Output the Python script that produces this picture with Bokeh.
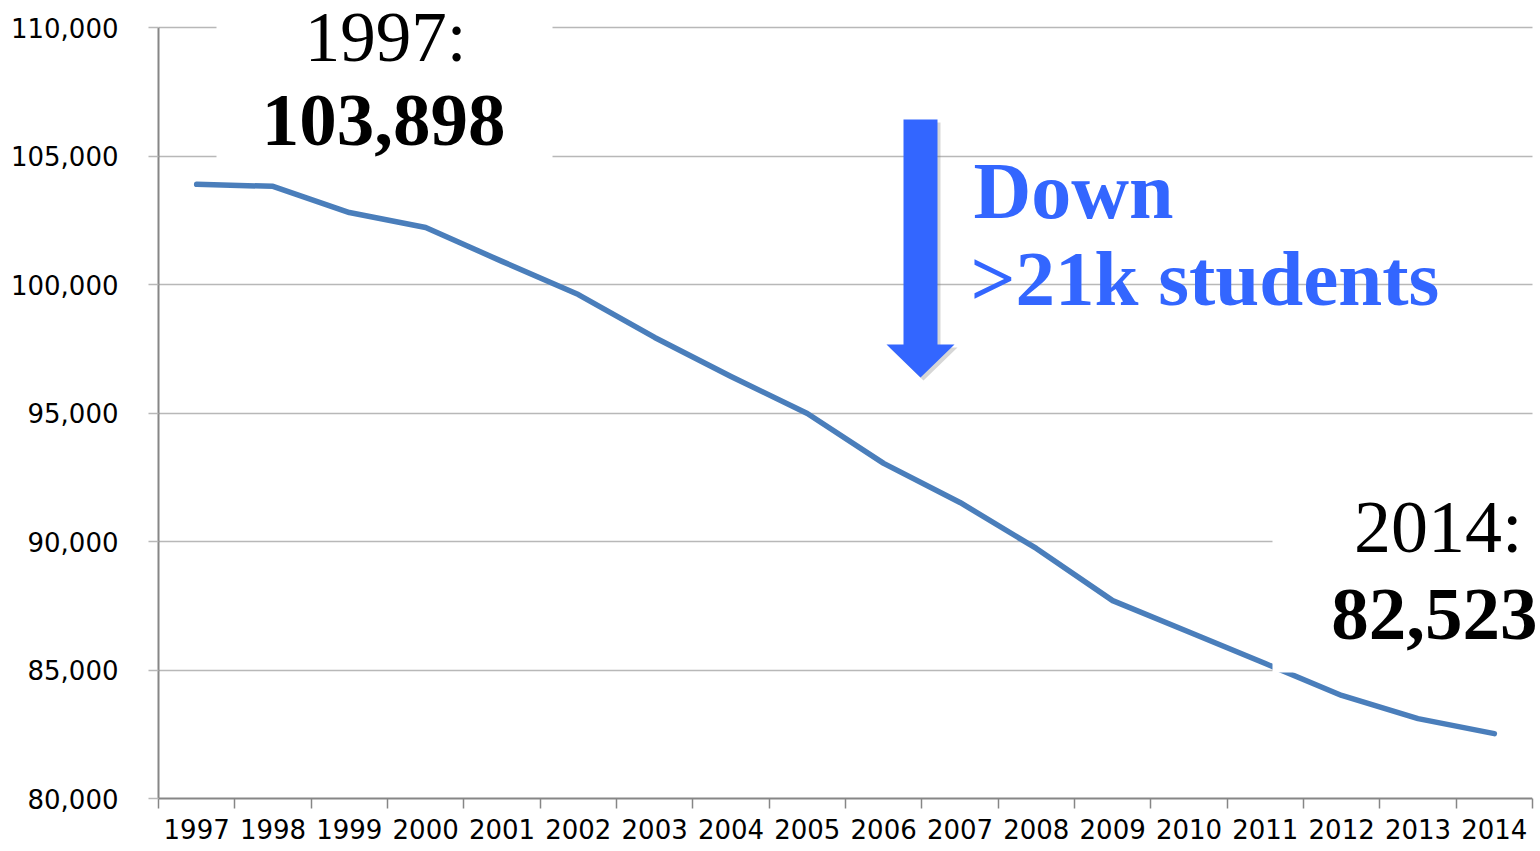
from bokeh.plotting import figure
from bokeh.models import (Range1d, FixedTicker, NumeralTickFormatter, BoxAnnotation,
                          Label, PolyAnnotation)
from bokeh.embed import file_html
from bokeh.resources import INLINE

# ---- data ----
years = ["1997", "1998", "1999", "2000", "2001", "2002", "2003", "2004", "2005",
         "2006", "2007", "2008", "2009", "2010", "2011", "2012", "2013", "2014"]
enrollment = [103898, 103820, 102800, 102220, 100900, 99610, 97940, 96420, 94980,
              93040, 91520, 89730, 87700, 86480, 85250, 84010, 83110, 82523]
y_ticks = [80000, 85000, 90000, 95000, 100000, 105000, 110000]

W, H = 1540, 851
L, B = 158, 53
AX_RIGHT = 1532          # pixel where the category axis ends
AX_TOP = 27              # pixel of the 110,000 line
YMIN, YMAX = 80000, 110000
n = len(years)
band = (AX_RIGHT - L) / n
upp = (YMAX - YMIN) / (H - B - AX_TOP)   # data units per pixel


def dx(px):
    return (px - L) / band


def dy(py):
    return YMAX - (py - AX_TOP) * upp


x_pos = [i + 0.5 for i in range(n)]

p = figure(width=W, height=H, output_backend="svg", toolbar_location=None,
           x_range=Range1d(0, dx(W)), y_range=Range1d(YMIN, dy(0)),
           min_border_left=L, min_border_right=0, min_border_top=0,
           min_border_bottom=B)
p.outline_line_color = None
p.background_fill_color = "white"
p.border_fill_color = "white"

axis_col = "#868686"
tick_font = "DejaVu Sans"

# axes
xa = p.xaxis[0]
xa.bounds = (0, n)
xa.ticker = FixedTicker(ticks=x_pos, minor_ticks=list(range(n + 1)))
xa.major_label_overrides = {x: y for x, y in zip(x_pos, years)}
xa.major_tick_out = 0
xa.major_tick_in = 0
xa.minor_tick_out = 10
xa.minor_tick_in = 0
xa.minor_tick_line_color = axis_col
xa.minor_tick_line_width = 1.5
xa.axis_line_color = axis_col
xa.axis_line_width = 2
xa.major_label_standoff = 10
xa.major_label_text_font = tick_font
xa.major_label_text_font_size = "26px"
xa.major_label_text_color = "black"

ya = p.yaxis[0]
ya.bounds = (YMIN, YMAX)
ya.ticker = FixedTicker(ticks=y_ticks)
ya.formatter = NumeralTickFormatter(format="0,0")
ya.major_tick_out = 10
ya.major_tick_in = 0
ya.minor_tick_line_color = None
ya.major_tick_line_color = "#b8b8b8"
ya.major_tick_line_width = 1.5
ya.axis_line_color = axis_col
ya.axis_line_width = 2
ya.major_label_standoff = 30
ya.major_label_text_font = tick_font
ya.major_label_text_font_size = "26px"
ya.major_label_text_color = "black"

p.xgrid.grid_line_color = None
p.ygrid.ticker = FixedTicker(ticks=y_ticks)
p.ygrid.grid_line_color = "#b8b8b8"
p.ygrid.grid_line_width = 1.5

# data line
p.line(x_pos, enrollment, line_color="#4A7EBB", line_width=5.5,
       line_join="round", line_cap="round")

# white strip right of the category axis end (gridlines stop at the axis end)
p.add_layout(BoxAnnotation(left=n, fill_color="white", fill_alpha=1, line_color=None))
# white boxes behind the callouts
p.add_layout(BoxAnnotation(left=dx(216), right=dx(552), bottom=dy(162),
                           fill_color="white", fill_alpha=1, line_color=None))
p.add_layout(BoxAnnotation(left=dx(1272), bottom=dy(672), top=dy(488),
                           fill_color="white", fill_alpha=1, line_color=None))

# arrow (shadow + body)
arrow_px = [(903, 119), (937, 119), (937, 344), (954, 344), (920, 377),
            (886, 344), (903, 344)]
sh = 3
p.add_layout(PolyAnnotation(xs=[dx(a + sh) for a, b in arrow_px],
                            ys=[dy(b + sh) for a, b in arrow_px],
                            fill_color="#777777", fill_alpha=0.3, line_color=None))
p.add_layout(PolyAnnotation(xs=[dx(a) for a, b in arrow_px],
                            ys=[dy(b) for a, b in arrow_px],
                            fill_color="#3366FF", fill_alpha=1, line_color=None))

serif = "Liberation Serif"
shift = 27   # Label baseline correction
labels = [
    ("1997:", 385, 63, "center", "normal", "black", "71px"),
    ("103,898", 383, 147, "center", "bold", "black", "75px"),
    ("Down", 973, 217, "left", "bold", "#3366FF", "80px"),
    (">21k students", 970, 305, "left", "bold", "#3366FF", "79px"),
    ("2014:", 1522, 553, "right", "normal", "black", "74px"),
    ("82,523", 1537, 641, "right", "bold", "black", "75px"),
]
for txt, px_, py_, al, st, col, fs in labels:
    p.add_layout(Label(x=dx(px_), y=dy(py_ - shift), text=txt, text_align=al,
                       text_baseline="alphabetic", text_font=serif,
                       text_font_style=st, text_color=col, text_font_size=fs))

open("out.html", "w").write(file_html(p, INLINE))
